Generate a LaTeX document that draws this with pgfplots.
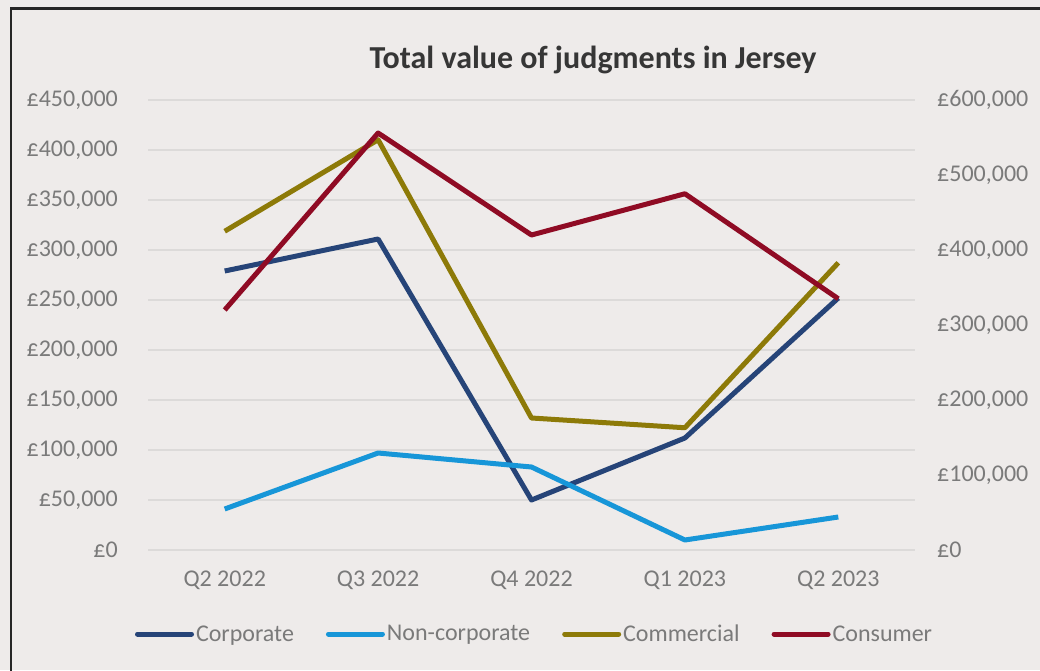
\documentclass[border=0pt]{standalone}
\usepackage{pgfplots}
\pgfplotsset{compat=1.18}
\usepackage{fontspec}
\setmainfont{Carlito}
\definecolor{bg}{HTML}{EEEBEA}
\definecolor{framec}{HTML}{262626}
\definecolor{gridc}{HTML}{DCDAD9}
\definecolor{labc}{HTML}{7A7A7A}
\definecolor{titc}{HTML}{363636}
\definecolor{corp}{HTML}{264478}
\definecolor{noncorp}{HTML}{1796D8}
\definecolor{comm}{HTML}{8D7A08}
\definecolor{cons}{HTML}{8F0B24}
\begin{document}
\begin{tikzpicture}[x=1pt,y=1pt]
\useasboundingbox (0,0) rectangle (1040,670);
\fill[bg] (0,0) rectangle (1040,670);
\draw[color=framec, line width=2.2pt] (11,-20) -- (11,661.5) -- (1060,661.5);
\node[font=\fontsize{32}{38}\selectfont\bfseries, text=titc, inner sep=0pt] at (593,610) {Total value of judgments in Jersey};
\begin{axis}[
  at={(148pt,120pt)}, anchor=south west,
  scale only axis, width=767pt, height=450pt,
  xmin=-0.5, xmax=4.5, ymin=0, ymax=450000,
  xtick={0,1,2,3,4},
  xticklabels={Q2 2022,Q3 2022,Q4 2022,Q1 2023,Q2 2023},
  ytick={0,50000,...,450000},
  scaled y ticks=false,
  yticklabel={£\pgfmathprintnumber[fixed,1000 sep={,},assume math mode=true]{\tick}},
  axis line style={draw=none},
  major tick length=0pt,
  ymajorgrids,
  grid style={gridc, line width=1.3pt},
  tick label style={font=\fontsize{24}{28}\selectfont, text=labc, inner sep=0pt},
  yticklabel style={anchor=east, xshift=-30pt},
  xticklabel style={anchor=north, yshift=-21pt},
  clip=false,
  legend columns=4,
  legend style={draw=none, fill=none, at={(0.504,-0.1867)}, anchor=center,
    font=\fontsize{24}{28}\selectfont, text=labc,
    /tikz/every even column/.append style={column sep=30pt},
    nodes={inner sep=2pt}},
  legend image code/.code={\draw[#1, line cap=round] (0pt,0pt) -- (54pt,0pt);},
  every axis plot/.append style={line width=5pt, line join=round},
]
\addplot[corp] coordinates {(0,279000) (1,311000) (2,50000) (3,112000) (4,252000)};
\addlegendentry{Corporate}
\addplot[noncorp] coordinates {(0,41000) (1,97000) (2,83000) (3,10000) (4,33000)};
\addlegendentry{Non-corporate}
\addlegendimage{comm, line width=5pt}
\addlegendentry{Commercial}
\addlegendimage{cons, line width=5pt}
\addlegendentry{Consumer}
\end{axis}
\begin{axis}[
  at={(148pt,120pt)}, anchor=south west,
  scale only axis, width=767pt, height=450pt,
  xmin=-0.5, xmax=4.5, ymin=0, ymax=600000,
  hide x axis,
  ytick={0,100000,...,600000},
  scaled y ticks=false,
  yticklabel pos=right,
  yticklabel={£\pgfmathprintnumber[fixed,1000 sep={,},assume math mode=true]{\tick}},
  axis line style={draw=none},
  major tick length=0pt,
  tick label style={font=\fontsize{24}{28}\selectfont, text=labc, inner sep=0pt},
  yticklabel style={anchor=west, xshift=22pt},
  clip=false,
  every axis plot/.append style={line width=5pt, line join=round},
]
\addplot[comm] coordinates {(0,425000) (1,547000) (2,176000) (3,163000) (4,383000)};
\addplot[cons] coordinates {(0,320000) (1,556000) (2,420000) (3,475000) (4,335000)};
\end{axis}
\end{tikzpicture}
\end{document}
